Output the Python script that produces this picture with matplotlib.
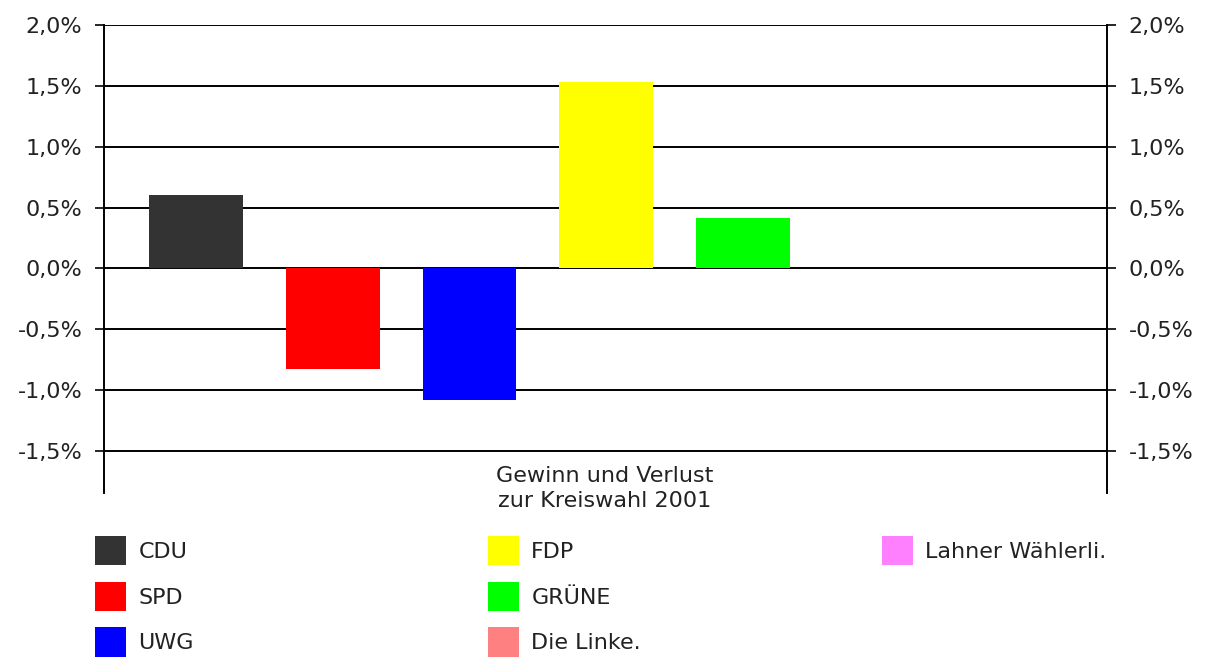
import numpy as np
import matplotlib.pyplot as plt
from matplotlib.ticker import FuncFormatter

parties = ['CDU', 'SPD', 'UWG', 'FDP', 'GRÜNE', 'Die Linke.', 'Lahner Wählerli.']
changes = [0.60, -0.83, -1.08, 1.53, 0.41, 0.0, 0.0]
colors = ['#333333', '#ff0000', '#0000ff', '#ffff00', '#00ff00', '#ff8080', '#ff80ff']
yticks = [-1.5, -1.0, -0.5, 0.0, 0.5, 1.0, 1.5, 2.0]
title = 'Gewinn und Verlust\nzur Kreiswahl 2001'

plt.rcParams['font.family'] = ['DejaVu Sans']
plt.rcParams['font.size'] = 16
plt.rcParams['text.color'] = '#222222'

fig = plt.figure(figsize=(12.07, 6.59), dpi=100)
ax = fig.add_axes([104 / 1207, 1 - 493 / 659, 1003 / 1207, 468 / 659])

x = np.arange(len(parties))
bars = ax.bar(x, changes, width=0.684, color=colors, zorder=3)

ax.set_xlim(-0.674, 6.663)
ax.set_ylim(-1.846, 2.0)
ax.set_yticks(yticks)
ax.yaxis.set_major_formatter(FuncFormatter(lambda v, p: f'{v:.1f}%'.replace('.', ',')))
ax.set_xticks([])
ax.grid(axis='y', color='black', linewidth=1.4, zorder=1)
ax.tick_params(axis='y', which='both', direction='out', length=6.5, width=1.2,
               left=True, right=True, labelleft=True, labelright=True,
               labelsize=16, labelcolor='#222222', pad=9)
for side in ['top', 'bottom']:
    ax.spines[side].set_visible(False)
for side in ['left', 'right']:
    ax.spines[side].set_linewidth(1.4)

fig.text(605 / 1207, 1 - 466 / 659, title, ha='center', va='top',
         fontsize=16, linespacing=1.3)

# three legend columns
handles = list(bars)
cols = [(0, 3, 95), (3, 6, 488), (6, 7, 882)]
for a, b, xpix in cols:
    leg = fig.legend(handles[a:b], parties[a:b], loc='upper left',
                     bbox_to_anchor=(xpix / 1207, 1 - 536 / 659),
                     frameon=False, borderpad=0, borderaxespad=0,
                     handlelength=1.4, handleheight=1.65, handletextpad=0.55,
                     labelspacing=0.74, fontsize=16)

fig.savefig('out.png', dpi=100)
